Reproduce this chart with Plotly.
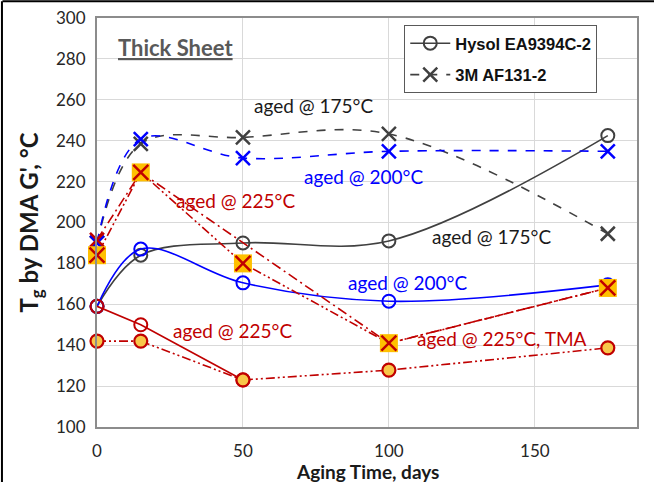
import plotly.graph_objects as go

# ---------------- data ----------------
days = [0, 15, 50, 100, 175]
hysol_175 = [159, 184, 190, 191, 242.5]
hysol_200 = [159, 187, 170.5, 161.5, 169.5]
hysol_225_days = [0, 15, 50]
hysol_225 = [159, 150, 123]
hysol_tma = [142, 142, 123, 127.8, 138.7]
af_175 = [190, 238.5, 241.6, 243.3, 194.5]
af_200 = [190, 240.8, 231.5, 234.8, 234.8]
af_225_days = [0, 15, 100, 175]
af_225 = [191.5, 224.5, 141, 168]
af_225_tma = [184, 224.5, 180, 141, 168]

legend_names = ["Hysol EA9394C-2", "3M AF131-2"]
x_ticks = [0, 50, 100, 150]
y_ticks = [100, 120, 140, 160, 180, 200, 220, 240, 260, 280, 300]

GREY = "#404040"
BLUE = "#0000FF"
RED = "#C00000"
ORANGE = "#FFC000"
FONT = "Lato"

fig = go.Figure()

def add(x, y, color, dash, symbol, shape="spline", width=1.6, msize=13, mcolor=None,
        mline=None, mlw=2):
    fig.add_trace(go.Scatter(
        x=x, y=y, mode="lines+markers", showlegend=False, cliponaxis=False,
        line=dict(color=color, dash=dash, width=width, shape=shape, smoothing=1),
        marker=dict(symbol=symbol, size=msize, color=mcolor or color,
                    line=dict(color=mline or color, width=mlw)),
        hoverinfo="skip"))

DASHDOTDOT = "9px,3px,2px,3px,2px,3px"
DASHDOT = "10px,4px,2px,4px"

add(days, hysol_175, GREY, "solid", "circle-open")
add(days, hysol_200, BLUE, "solid", "circle-open")
add(days, af_175, GREY, "dash", "x-thin-open", msize=14, mlw=2.5)
add(days, af_200, BLUE, "dash", "x-thin-open", msize=14, mlw=2.5)
add(hysol_225_days, hysol_225, RED, "solid", "circle-open", shape="linear")
add(days, hysol_tma, RED, DASHDOTDOT, "circle", shape="linear", msize=13,
    mcolor="#F8C74A", mline=RED, mlw=2.2)
add(af_225_days, af_225, RED, DASHDOT, "x-thin-open", shape="linear", msize=14, mlw=2.5)
add(days, af_225_tma, RED, DASHDOTDOT, "square", shape="linear", msize=18,
    mcolor=ORANGE, mline=ORANGE, mlw=0)
# X drawn inside the squares
fig.add_trace(go.Scatter(
    x=days, y=af_225_tma, mode="markers", showlegend=False, cliponaxis=False,
    marker=dict(symbol="x-thin-open", size=15, color=RED, line=dict(color=RED, width=2.5)),
    hoverinfo="skip"))

# legend-only traces
fig.add_trace(go.Scatter(x=[None], y=[None], mode="lines+markers",
                         name="<b>" + legend_names[0] + "</b>", legendgroup="a",
                         line=dict(color=GREY, width=1.6),
                         marker=dict(symbol="circle-open", size=13, color=GREY,
                                     line=dict(color=GREY, width=2))))
fig.add_trace(go.Scatter(x=[None], y=[None], mode="lines+markers",
                         name="<b>" + legend_names[1] + "</b>", legendgroup="b",
                         line=dict(color=GREY, width=1.6, dash="dash"),
                         marker=dict(symbol="x-thin-open", size=14, color=GREY,
                                     line=dict(color=GREY, width=2.5))))

anns = [
    ("aged @ 175°C", 74, 257, "#1a1a1a"),
    ("aged @ 200°C", 91.3, 222.7, BLUE),
    ("aged @ 225°C", 47.5, 211, RED),
    ("aged @ 175°C", 135, 193.2, "#1a1a1a"),
    ("aged @ 200°C", 106.4, 170.8, BLUE),
    ("aged @ 225°C", 46.3, 147, RED),
    ("aged @ 225°C, TMA", 138.7, 143.5, RED),
]
for t, x, y, c in anns:
    fig.add_annotation(x=x, y=y, text=t, showarrow=False, xanchor="center", yanchor="middle",
                       font=dict(family=FONT, size=19, color=c))

fig.add_annotation(xref="paper", yref="paper", x=0.146, y=0.929, xanchor="center",
                   yanchor="middle", text="<b><u>Thick Sheet</u></b>", showarrow=False,
                   font=dict(family=FONT, size=22, color="#595959"))

# axis titles
fig.add_annotation(xref="paper", yref="paper", x=0.5, y=-0.108, xanchor="center",
                   yanchor="middle", text="<b>Aging Time, days</b>", showarrow=False,
                   font=dict(family=FONT, size=19, color="#1a1a1a"))
fig.add_annotation(xref="paper", yref="paper", x=-0.124, y=0.5, xanchor="center",
                   yanchor="middle", textangle=-90,
                   text="<b>T<sub>g</sub> by DMA G', °C</b>", showarrow=False,
                   font=dict(family=FONT, size=24, color="#1a1a1a"))

# outer chart border (left and top)
fig.add_shape(type="line", xref="paper", yref="paper", x0=-0.175, x1=1.04, y0=1.041, y1=1.041,
              line=dict(color="black", width=2))
fig.add_shape(type="line", xref="paper", yref="paper", x0=-0.176, x1=-0.176, y0=-0.14, y1=1.041,
              line=dict(color="black", width=2))

fig.update_layout(
    width=654, height=482,
    margin=dict(l=97, r=17, t=18, b=55),
    paper_bgcolor="white", plot_bgcolor="white",
    font=dict(family=FONT, color="#262626"),
    legend=dict(x=0.569, y=0.983, xanchor="left", yanchor="top",
                bgcolor="white", bordercolor="#595959", borderwidth=1,
                font=dict(family="Liberation Sans", size=16.5, color="#111111"),
                tracegroupgap=7, itemwidth=40),
    xaxis=dict(range=[0, 185], tickvals=x_ticks, showgrid=True, gridcolor="#D9D9D9",
               gridwidth=1, zeroline=False, showline=True, mirror=True, automargin=False,
               linecolor="#8C8C8C", linewidth=2, ticks="",
               tickfont=dict(family=FONT, size=17, color="#262626"),
               ticklabelstandoff=8),
    yaxis=dict(range=[100, 300], tickvals=y_ticks, showgrid=True, gridcolor="#D9D9D9",
               gridwidth=1, zeroline=False, showline=True, mirror=True, automargin=False,
               linecolor="#8C8C8C", linewidth=2, ticks="",
               tickfont=dict(family=FONT, size=17, color="#262626"),
               ticklabelstandoff=6),
)

fig.write_html("out.html")
